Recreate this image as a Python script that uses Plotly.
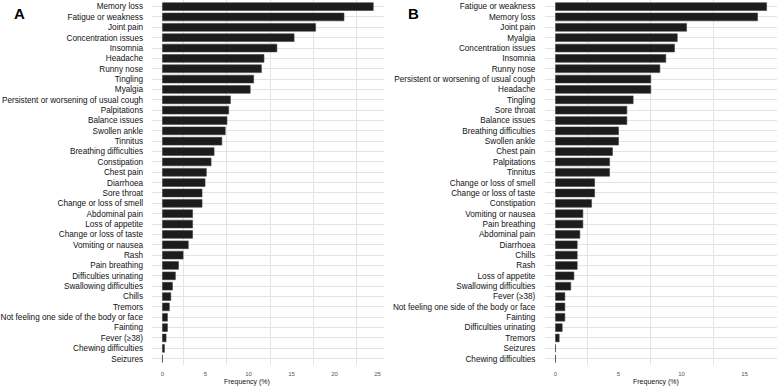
import plotly.graph_objects as go

# Panel A (top-to-bottom order)
cats_a = ["Memory loss", "Fatigue or weakness", "Joint pain", "Concentration issues", "Insomnia",
          "Headache", "Runny nose", "Tingling", "Myalgia", "Persistent or worsening of usual cough",
          "Palpitations", "Balance issues", "Swollen ankle", "Tinnitus", "Breathing difficulties",
          "Constipation", "Chest pain", "Diarrhoea", "Sore throat", "Change or loss of smell",
          "Abdominal pain", "Loss of appetite", "Change or loss of taste", "Vomiting or nausea", "Rash",
          "Pain breathing", "Difficulties urinating", "Swallowing difficulties", "Chills", "Tremors",
          "Not feeling one side of the body or face", "Fainting", "Fever (≥38)", "Chewing difficulties",
          "Seizures"]
vals_a = [24.5, 21.1, 17.8, 15.3, 13.3,
          11.8, 11.5, 10.6, 10.2, 7.9,
          7.7, 7.5, 7.3, 6.9, 6.0,
          5.65, 5.1, 4.95, 4.6, 4.6,
          3.5, 3.5, 3.5, 3.0, 2.4,
          1.86, 1.5, 1.16, 0.97, 0.8,
          0.58, 0.58, 0.42, 0.23, 0.0]

# Panel B (top-to-bottom order)
cats_b = ["Fatigue or weakness", "Memory loss", "Joint pain", "Myalgia", "Concentration issues",
          "Insomnia", "Runny nose", "Persistent or worsening of usual cough", "Headache", "Tingling",
          "Sore throat", "Balance issues", "Breathing difficulties", "Swollen ankle", "Chest pain",
          "Palpitations", "Tinnitus", "Change or loss of smell", "Change or loss of taste", "Constipation",
          "Vomiting or nausea", "Pain breathing", "Abdominal pain", "Diarrhoea", "Chills",
          "Rash", "Loss of appetite", "Swallowing difficulties", "Fever (≥38)",
          "Not feeling one side of the body or face", "Fainting", "Difficulties urinating", "Tremors",
          "Seizures", "Chewing difficulties"]
vals_b = [16.75, 16.03, 10.4, 9.66, 9.44,
          8.75, 8.28, 7.56, 7.56, 6.16,
          5.66, 5.66, 5.0, 5.0, 4.52,
          4.29, 4.29, 3.1, 3.1, 2.86,
          2.17, 2.17, 1.93, 1.72, 1.72,
          1.72, 1.46, 1.21, 0.74,
          0.74, 0.74, 0.53, 0.29,
          0.0, 0.0]

ticks_a = [0, 5, 10, 15, 20, 25]
ticks_b = [0, 5, 10, 15]
minor_a = [2.5, 7.5, 12.5, 17.5, 22.5]
minor_b = [2.5, 7.5, 12.5, 17.5]

W, H = 777, 386
BAR = "#1c1c1c"
EDGE = "#404040"
GRID = "#e4e4e4"
FONT = "Liberation Sans, Arial, sans-serif"

fig = go.Figure()
fig.add_trace(go.Bar(x=vals_a, y=cats_a, orientation="h", width=0.75,
                     marker=dict(color=BAR, line=dict(color=EDGE, width=0.6)),
                     xaxis="x", yaxis="y", showlegend=False))
fig.add_trace(go.Bar(x=vals_b, y=cats_b, orientation="h", width=0.75,
                     marker=dict(color=BAR, line=dict(color=EDGE, width=0.6)),
                     xaxis="x2", yaxis="y2", showlegend=False))

ydom = [(H - 364.9) / H, 0.999]
n = len(cats_a)

def xaxis(dom, rng, tv, mv, anchor):
    return dict(domain=dom, range=rng, anchor=anchor, tickvals=tv, ticktext=[str(t) for t in tv],
                showgrid=False, zeroline=False, showline=False, automargin=False,
                ticks="outside", ticklen=3, tickcolor="rgba(0,0,0,0)",
                tickfont=dict(family=FONT, size=6, color="#555555"),
                minor=dict(tickmode="array", tickvals=mv, showgrid=True, gridcolor=GRID, gridwidth=1,
                           ticks=""),
                fixedrange=True)

def yaxis(cats, anchor, tl):
    return dict(domain=ydom, anchor=anchor, type="category", categoryorder="array",
                categoryarray=cats, range=[n - 1 + 0.6, -0.6], automargin=False,
                showgrid=True, gridcolor=GRID, gridwidth=1, zeroline=False, showline=False,
                ticks="outside", ticklen=tl, tickcolor="rgba(0,0,0,0)",
                tickfont=dict(family=FONT, size=8.2, color="#111111"), fixedrange=True)

fig.update_layout(
    width=W, height=H,
    margin=dict(l=0, r=0, t=0, b=0, autoexpand=False),
    paper_bgcolor="white", plot_bgcolor="white",
    bargap=0.25,
    xaxis=xaxis([151.7 / W, 384 / W], [-1.25, 25.75], ticks_a, minor_a, "y"),
    yaxis=yaxis(cats_a, "x", 6),
    xaxis2=xaxis([545 / W, 776.5 / W], [-0.835, 17.535], ticks_b, minor_b, "y2"),
    yaxis2=yaxis(cats_b, "x2", 7),
    annotations=[
        dict(text="Frequency (%)", x=247 / W, y=(H - 381.7) / H, xref="paper", yref="paper",
             xanchor="center", yanchor="middle", showarrow=False,
             font=dict(family=FONT, size=7, color="#111111")),
        dict(text="Frequency (%)", x=655.7 / W, y=(H - 381.7) / H, xref="paper", yref="paper",
             xanchor="center", yanchor="middle", showarrow=False,
             font=dict(family=FONT, size=7, color="#111111")),
        dict(text="<b>A</b>", x=19.5 / W, y=(H - 13.7) / H, xref="paper", yref="paper",
             xanchor="center", yanchor="middle", showarrow=False,
             font=dict(family=FONT, size=15, color="#000000")),
        dict(text="<b>B</b>", x=413.8 / W, y=(H - 13.7) / H, xref="paper", yref="paper",
             xanchor="center", yanchor="middle", showarrow=False,
             font=dict(family=FONT, size=15, color="#000000")),
    ],
)

fig.write_html("out.html", config={"displayModeBar": False},
               post_script="document.body.style.margin='0';document.body.style.overflow='hidden';")
